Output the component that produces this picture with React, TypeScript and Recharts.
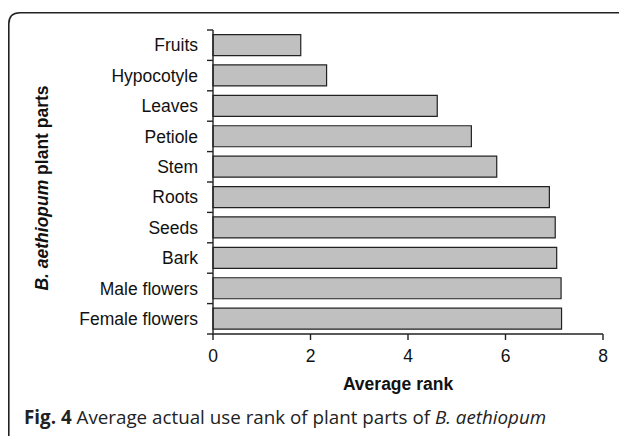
import React from "react";
import { BarChart, Bar, XAxis, YAxis, Label } from "recharts";

const categories = [
  "Fruits",
  "Hypocotyle",
  "Leaves",
  "Petiole",
  "Stem",
  "Roots",
  "Seeds",
  "Bark",
  "Male flowers",
  "Female flowers",
];
const averageRank = [1.8, 2.33, 4.6, 5.3, 5.82, 6.9, 7.02, 7.05, 7.14, 7.15];
const xTicks = [0, 2, 4, 6, 8];

const data = categories.map((c, i) => ({ part: c, rank: averageRank[i] }));

const AXIS_FONT = "'Liberation Sans', Arial, sans-serif";
const TICK_LEN = 6;
const TICK_MARGIN = 9;

const CategoryTick = (props: any) => {
  const { payload, index, visibleTicksCount } = props;
  const x = Number(props.x);
  const y = Number(props.y);
  const off = Number(payload && payload.offset);
  const half = off > 0 ? off : 15.2;
  const axisX = x + TICK_LEN + TICK_MARGIN;
  const isLast = index === Number(visibleTicksCount ?? categories.length) - 1;
  return (
    <g>
      <line x1={axisX} x2={axisX - TICK_LEN} y1={y - half} y2={y - half} stroke="#222" strokeWidth={1.4} />
      {isLast && (
        <line x1={axisX} x2={axisX - TICK_LEN} y1={y + half} y2={y + half} stroke="#222" strokeWidth={1.4} />
      )}
      <text x={x} y={y} dy="0.355em" textAnchor="end" fontFamily={AXIS_FONT} fontSize={17.5} fill="#111">
        {payload.value}
      </text>
    </g>
  );
};

const XLabel = (props: any) => {
  const vb = props.viewBox || {};
  return (
    <text
      x={vb.x + vb.width / 2 - 10}
      y={vb.y + 56}
      textAnchor="middle"
      fontFamily={AXIS_FONT}
      fontSize={17.5}
      fontWeight="bold"
      fill="#111"
    >
      Average rank
    </text>
  );
};

const YLabel = (props: any) => {
  const vb = props.viewBox || {};
  const x = vb.x + 47.5;
  const y = vb.y + vb.height / 2 + 6;
  return (
    <text
      x={x}
      y={y}
      transform={`rotate(-90, ${x}, ${y})`}
      textAnchor="middle"
      fontFamily={AXIS_FONT}
      fontSize={17.5}
      fontWeight="bold"
      fill="#111"
    >
      <tspan fontStyle="italic">B. aethiopum</tspan>
      <tspan> plant parts</tspan>
    </text>
  );
};

export default function App() {
  return (
    <div style={{ position: "relative", width: 627, height: 436, margin: "-8px 0 0 -8px" }}>
      <BarChart
        layout="vertical"
        width={627}
        height={400}
        data={data}
        margin={{ top: 30, right: 24, bottom: 0, left: 0 }}
        barCategoryGap="15%"
      >
        <XAxis
          type="number"
          domain={[0, 8]}
          ticks={xTicks}
          height={66}
          stroke="#222"
          tickSize={6}
          tickMargin={10}
          tick={{ fontFamily: AXIS_FONT, fontSize: 17.5, fill: "#111" }}
          axisLine={{ stroke: "#222", strokeWidth: 1.4 }}
          tickLine={{ stroke: "#222", strokeWidth: 1.4 }}
          label={<Label content={<XLabel />} />}
        />
        <YAxis
          type="category"
          dataKey="part"
          width={213}
          tickSize={TICK_LEN}
          tickMargin={TICK_MARGIN}
          tickLine={false}
          axisLine={{ stroke: "#222", strokeWidth: 1.4 }}
          interval={0}
          tick={<CategoryTick />}
          label={<Label content={<YLabel />} />}
        />
        <Bar dataKey="rank" fill="#c0c0c0" stroke="#222" strokeWidth={1.2} isAnimationActive={false} />
      </BarChart>
      <svg
        width={627}
        height={436}
        style={{ position: "absolute", left: 0, top: 0, pointerEvents: "none" }}
      >
        <path d="M 8.8 436 L 8.8 24 Q 8.8 12.8 20 12.8 L 627 12.8" fill="none" stroke="#222" strokeWidth={1.6} />
      </svg>
      <div
        style={{
          position: "absolute",
          left: 24,
          top: 405.5,
          fontFamily: "'Open Sans', sans-serif",
          fontSize: 18.8,
          lineHeight: "22px",
          color: "#222",
          whiteSpace: "nowrap",
        }}
      >
        <span style={{ fontWeight: "bold" }}>Fig. 4</span> Average actual use rank of plant parts of{" "}
        <span style={{ fontStyle: "italic" }}>B. aethiopum</span>
      </div>
    </div>
  );
}
